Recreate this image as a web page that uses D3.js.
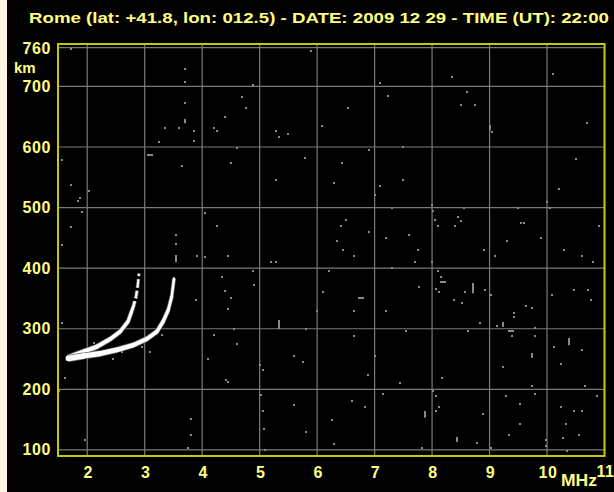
<!DOCTYPE html>
<html>
<head>
<meta charset="utf-8">
<script src="https://cdn.jsdelivr.net/npm/d3@7"></script>
<style>
  html, body { margin: 0; padding: 0; background: #fdf3e1; }
  svg { display: block; }
</style>
</head>
<body>
<svg id="chart" width="614" height="492"></svg>
<script>
// ---------------- DATA ----------------
const titleText = "Rome (lat: +41.8, lon: 012.5) - DATE: 2009 12 29 - TIME (UT): 22:00";
const freqTicks = [2, 3, 4, 5, 6, 7, 8, 9, 10, 11];
const freqLabels = ["2", "3", "4", "5", "6", "7", "8", "9", "10", "11"];
const heightTicks = [100, 200, 300, 400, 500, 600, 700, 760];
const heightLabels = ["100", "200", "300", "400", "500", "600", "700", "760"];
const freqUnit = "MHz";
const heightUnit = "km";

// ordinary (upper-left) trace  [MHz, km]
const traceO = [[1.67,253],[1.93,262],[2.16,270],[2.40,283],[2.57,295],[2.71,312],[2.77,328],[2.80,336],[2.85,353],[2.88,372],[2.90,391]];
// extraordinary (right) trace  [MHz, km]
const traceX = [[1.67,251],[1.93,255],[2.22,259],[2.51,265],[2.80,273],[3.03,283],[3.21,295],[3.32,312],[3.41,331],[3.47,353],[3.51,383]];

// isolated noise echoes  [MHz, km]
const noiseDots = [
  [1.72,762],[1.56,578],[1.72,537],[1.84,511],[1.87,516],[1.91,493],[2.03,527],[1.72,468],[1.56,438],[1.56,309],[1.61,219],[1.96,116],[1.51,197],
  [3.80,151],[3.80,125],[3.75,103],
  [3.70,729],[3.70,707],[3.70,672],[3.35,631],[3.60,631],[3.86,610],[3.25,608],[3.85,627],[3.65,569],
  [4.20,631],[4.25,627],[4.50,573],[4.40,650],[4.70,682],[4.76,664],[4.88,703],[4.60,599],
  [5.28,626],[5.34,617],[5.49,622],[5.79,582],[5.89,758],[5.28,545],[6.08,635],[6.44,573],[6.54,664],
  [3.89,347],[3.91,420],[4.05,418],[3.54,440],[3.54,455],
  [4.05,491],[4.25,470],[4.45,420],[4.35,385],[4.40,362],[4.50,350],[4.45,332],[4.55,300],[4.90,372],[4.88,395],[5.20,410],[5.28,410],
  [5.00,240],[5.05,232],[4.42,215],[4.45,212],[5.03,190],[5.05,165],[5.08,135],[5.10,100],[5.60,255],[5.75,245],[5.80,300],[6.00,330],
  [6.10,360],[6.20,395],[6.35,445],[6.42,470],[6.50,480],[6.45,430],[6.65,420],[6.90,460],[6.25,150],[5.80,130],[6.30,110],[6.65,330],
  [7.00,255],[7.20,330],[6.60,180],[5.60,175],[4.20,290],[4.60,275],[4.10,250],
  [7.23,684],[7.10,705],[7.00,520],[7.10,535],[7.30,500],[7.50,545],[7.60,455],[7.75,430],[7.70,410],[8.00,505],[8.02,495],[8.05,480],
  [8.10,470],[8.40,470],[8.45,485],[8.50,478],[8.55,500],[8.35,715],[8.50,670],[8.60,690],[8.75,670],[9.05,625],[9.50,500],
  [9.55,475],[9.60,475],[9.90,450],[10.00,510],[10.05,500],[10.20,530],[10.30,430],[10.60,420],[10.80,410],[10.90,470],[10.50,580],
  [10.70,640],[10.10,720],[9.30,445],[9.10,420],[8.90,430],[8.00,410],[8.10,395],[8.15,385],[7.30,400],[7.20,450],[6.90,595],[7.50,600],[6.30,540],
  [7.77,369],[8.07,366],[8.12,361],[8.38,347],[8.52,342],[8.57,361],[8.92,364],[9.02,356],[9.63,337],[9.73,334],[10.08,356],[10.47,364],
  [10.71,364],[10.76,347],[9.42,326],[9.42,319],[9.13,305],[8.83,309],[9.79,301],[9.79,288],[9.39,288],[10.13,270],[10.60,265],[10.24,242],
  [9.23,237],[8.17,219],[7.44,210],[6.88,224],[6.64,288],[7.54,296],[8.62,296],[10.66,206],[9.73,206],[9.79,192],[9.28,189],[9.53,176],
  [7.14,192],[6.83,171],[8.01,197],[8.07,189],[8.12,171],[8.07,164],[8.88,159],[10.24,171],[10.47,164],[10.60,164],[10.87,189],[10.33,143],
  [9.53,143],[9.34,125],[10.28,120],[10.55,125],[9.98,116],[9.98,107],[10.34,98],[8.78,111],[7.82,103],[9.02,103],
  [2.35,263],[2.60,262],[2.95,270],[2.45,250],[3.10,262],[3.30,290],[2.12,277]
];
// vertical noise streaks  [MHz, km from, km to]
const noiseVBars = [[3.54,410,422],[3.70,639,646],[8.71,359,376],[9.23,303,311],[10.38,273,285],[9.73,252,260],[7.87,153,164],[8.43,113,121],[5.33,300,315],[9.00,628,637]];
// horizontal noise streaks  [MHz, km]
const noiseHBars = [[3.10,586],[6.76,351],[8.19,377],[9.37,296]];

// ---------------- CHART ----------------
const svg = d3.select("#chart");
const W = 614, H = 492;
const yellowText = "#ffff80";
const frameYellow = "#c8c800";
const gridGray = "#7a7a7a";
const dotGray = "#8a8a8a";

svg.append("rect").attr("x", 7).attr("y", 0).attr("width", W - 7).attr("height", H).attr("fill", "#000");

const x = d3.scaleLinear().domain([1.5, 11]).range([58.5, 604.5]);
const y = d3.scaleLinear().domain([90, 770]).range([456, 44]);

// title
svg.append("text")
  .attr("x", 29).attr("y", 23)
  .attr("textLength", 580).attr("lengthAdjust", "spacingAndGlyphs")
  .attr("fill", yellowText)
  .attr("font-family", "Liberation Sans, Arial, sans-serif")
  .attr("font-weight", "bold").attr("font-size", 14)
  .text(titleText);

// grid
const grid = svg.append("g");
grid.selectAll("line.v").data(freqTicks).join("line")
  .attr("x1", d => x(d)).attr("x2", d => x(d))
  .attr("y1", y(770)).attr("y2", y(90))
  .attr("stroke", gridGray).attr("stroke-width", 1.2);
grid.selectAll("line.h").data(heightTicks).join("line")
  .attr("x1", x(1.5)).attr("x2", x(11))
  .attr("y1", d => d === 760 ? y(d) - 2.5 : y(d)).attr("y2", d => d === 760 ? y(d) - 2.5 : y(d))
  .attr("stroke", gridGray).attr("stroke-width", 1.2);

// noise
const noise = svg.append("g").attr("fill", dotGray);
noise.selectAll("rect.d").data(noiseDots).join("rect")
  .attr("x", d => Math.round(x(d[0])) - 1).attr("y", d => Math.round(y(d[1])) - 1)
  .attr("width", 2).attr("height", 2);
noise.selectAll("rect.vb").data(noiseVBars).join("rect")
  .attr("x", d => Math.round(x(d[0])) - 1).attr("y", d => Math.round(y(d[2])))
  .attr("width", 2).attr("height", d => Math.max(3, y(d[1]) - y(d[2])));
noise.selectAll("rect.hb").data(noiseHBars).join("rect")
  .attr("x", d => Math.round(x(d[0])) - 3).attr("y", d => Math.round(y(d[1])) - 1)
  .attr("width", 6).attr("height", 2);

// traces (tapering thickness)
function drawTrace(pts, w0, w1, dashTail) {
  const g = svg.append("g");
  const n = pts.length;
  const seg = (i, color, extra) => {
    const t = i / (n - 2);
    const w = w0 + (w1 - w0) * t;
    const l = g.append("line")
      .attr("x1", x(pts[i][0])).attr("y1", y(pts[i][1]))
      .attr("x2", x(pts[i + 1][0])).attr("y2", y(pts[i + 1][1]))
      .attr("stroke", color).attr("stroke-width", w + extra)
      .attr("stroke-linecap", extra ? "butt" : "round");
    if (dashTail && i >= n - 4) l.attr("stroke-dasharray", "6 3").attr("stroke-linecap", "butt");
  };
  for (let i = 0; i < n - 1; i++) seg(i, "#6a6a6a", 1.5);
  for (let i = 0; i < n - 1; i++) seg(i, "#fff", 0);
}
drawTrace(traceO, 4.5, 2, true);
drawTrace(traceX, 5.5, 2.5, false);

// frame
svg.append("rect")
  .attr("x", x(1.5) - 0.5).attr("y", y(770))
  .attr("width", x(11) - x(1.5) + 0.5).attr("height", y(90) - y(770))
  .attr("fill", "none").attr("stroke", frameYellow).attr("stroke-width", 2);

// y labels
const yl = svg.append("g")
  .attr("fill", yellowText).attr("font-family", "Liberation Sans, Arial, sans-serif")
  .attr("font-weight", "bold").attr("font-size", 16).attr("text-anchor", "end");
yl.selectAll("text").data(heightTicks).join("text")
  .attr("x", 51).attr("y", d => d === 760 ? y(d) + 3.5 : y(d) + 5.5)
  .attr("letter-spacing", 0.6)
  .text((d, i) => heightLabels[i]);
svg.append("text")
  .attr("x", 14).attr("y", 73)
  .attr("fill", yellowText).attr("font-family", "Liberation Sans, Arial, sans-serif")
  .attr("font-weight", "bold").attr("font-size", 15)
  .text(heightUnit);

// x labels
const xl = svg.append("g")
  .attr("fill", yellowText).attr("font-family", "Liberation Sans, Arial, sans-serif")
  .attr("font-weight", "bold").attr("font-size", 16).attr("text-anchor", "middle");
xl.selectAll("text").data(freqTicks).join("text")
  .attr("x", d => d === 11 ? x(d) + 1 : x(d) + 1)
  .attr("y", d => d === 11 ? 477 : 478)
  .attr("letter-spacing", 0.6)
  .text((d, i) => freqLabels[i]);
svg.append("text")
  .attr("x", 561).attr("y", 486)
  .attr("textLength", 36).attr("lengthAdjust", "spacingAndGlyphs")
  .attr("fill", yellowText).attr("font-family", "Liberation Sans, Arial, sans-serif")
  .attr("font-weight", "bold").attr("font-size", 16)
  .text(freqUnit);
</script>
</body>
</html>
